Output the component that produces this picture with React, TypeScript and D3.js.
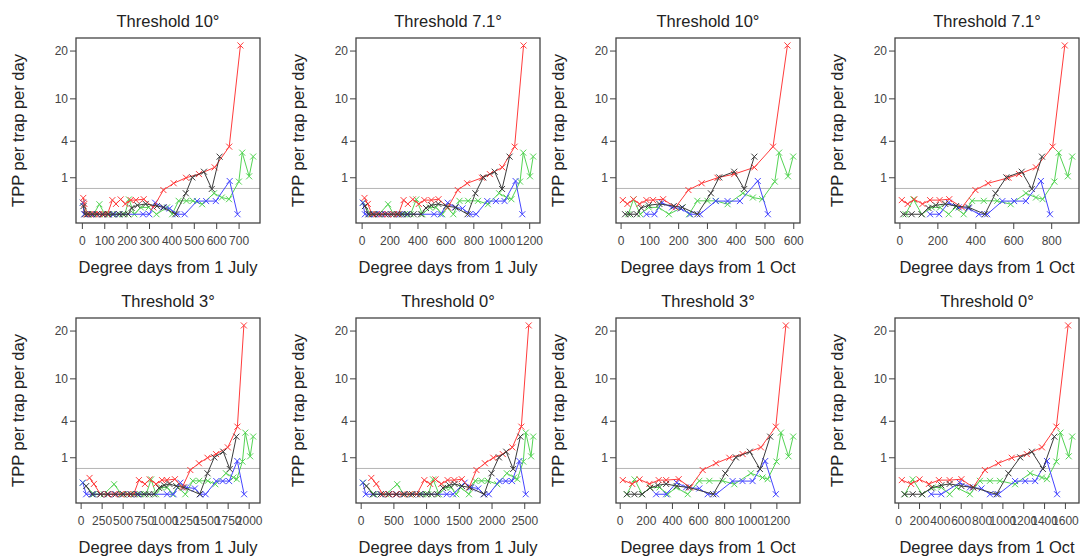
import React from "react";
import * as d3 from "d3";

// ---------- DATA ----------
const thresholdLabels = ["10", "7.1", "3", "0"];

// Oct-onward samples (shared by all panels)
const redOctY = [0.15, 0.08, 0.165, 0.08, 0.15, 0.15, 0.17, 0.035, 0.44, 0.72, 1.0, 1.21, 1.65, 3.43, 21.4];
const redOctX10 = [6, 22, 43, 64, 88, 111, 146, 189, 234, 280, 335, 393, 463, 528, 578];
const redOctX7 = [10, 41, 76, 119, 159, 209, 260, 327, 398, 465, 572, 628, 717, 805, 869];
const redOctX3 = [20, 92, 148, 224, 295, 352, 448, 535, 632, 734, 836, 938, 1078, 1192, 1269];
const redOctX0 = [30, 119, 200, 290, 386, 489, 602, 715, 827, 956, 1085, 1230, 1375, 1513, 1626];

const blackOctY = [0, 0, 0, 0.03, 0.06, 0.08, 0.05, 0.035, 0, 0.33, 1.02, 1.36, 0.48, 2.49];
const blackOctX10 = [14, 32, 55, 70, 96, 133, 183, 213, 265, 312, 341, 393, 428, 463];
const blackOctX7 = [18, 62, 115, 150, 189, 239, 296, 363, 448, 504, 561, 642, 695, 749];
const blackOctX3 = [51, 109, 168, 229, 288, 352, 433, 525, 713, 805, 886, 993, 1070, 1149];
const blackOctX0 = [55, 135, 225, 312, 409, 489, 602, 715, 940, 1053, 1166, 1278, 1384, 1494];

const blueOctY = [0, 0, 0.1, 0.035, 0.025, 0, 0, 0.13, 0.13, 0.13, 0.83, 0];
const blueOctX10 = [88, 116, 142, 177, 207, 240, 274, 329, 370, 413, 475, 510];
const blueOctX7 = [159, 207, 257, 310, 363, 416, 460, 540, 602, 664, 743, 791];
const blueOctX3 = [275, 352, 433, 504, 606, 670, 734, 861, 937, 1014, 1111, 1192];
const blueOctX0 = [312, 409, 586, 683, 795, 876, 956, 1117, 1214, 1310, 1423, 1520];

const greenOctY = [0, 0.165, 0, 0.035, 0.035, 0, 0.035, 0, 0.135, 0.135, 0.135, 0.075, 0.33, 0.21, 0.17, 0.8, 2.85, 1.08, 2.5];
const greenOctX10 = [25, 43, 67, 96, 131, 166, 213, 236, 265, 300, 329, 370, 423, 458, 490, 534, 549, 580, 598];
const greenOctX7 = [30, 71, 115, 168, 212, 257, 292, 336, 380, 442, 513, 584, 664, 717, 752, 814, 837, 885, 908];
const greenOctX3 = [51, 110, 168, 229, 301, 364, 428, 517, 606, 683, 785, 874, 1001, 1090, 1129, 1197, 1231, 1289, 1325];
const greenOctX0 = [60, 135, 225, 328, 409, 489, 554, 683, 779, 876, 972, 1117, 1262, 1375, 1423, 1513, 1552, 1632, 1665];

// Degree days accumulated 1 July -> 1 Oct, per site, thresholds [10, 7.1, 3, 0]
const redJulyToOct = [128, 287, 668, 935];
const blackJulyToOct = [150, 307, 699, 939];
const blueJulyToOct = [183, 356, 748, 995];
const greenJulyToOct = [165, 317, 723, 964];

// Winter samples (July - Sept), only in "from 1 July" panels
const redWinterY = [0.2, 0.08, 0, 0, 0, 0, 0, 0];
const redWinterX10 = [4, 9, 20, 35, 55, 75, 95, 112];
const redWinterX7 = [17, 41, 70, 105, 145, 185, 225, 260];
const redWinterX3 = [100, 152, 230, 310, 390, 470, 550, 625];
const redWinterX0 = [155, 232, 330, 430, 530, 630, 740, 850];

const blackWinterY = [0.05, 0, 0, 0, 0, 0, 0, 0];
const blackWinterX10 = [5, 12, 25, 45, 65, 90, 115, 135];
const blackWinterX7 = [20, 45, 80, 120, 165, 210, 250, 285];
const blackWinterX3 = [60, 130, 230, 320, 410, 500, 590, 670];
const blackWinterX0 = [80, 180, 300, 420, 540, 660, 780, 900];

const blueWinterY = [0.1, 0, 0, 0, 0, 0, 0, 0, 0];
const blueWinterX10 = [2, 8, 20, 40, 65, 90, 115, 140, 165];
const blueWinterX7 = [5, 20, 50, 90, 135, 180, 225, 270, 320];
const blueWinterX3 = [20, 60, 140, 230, 320, 410, 500, 590, 680];
const blueWinterX0 = [25, 70, 180, 300, 420, 540, 660, 780, 900];

const greenWinterY = [0.1, 0, 0, 0.075, 0, 0, 0, 0];
const greenWinterX10 = [3, 25, 50, 76, 100, 120, 140, 155];
const greenWinterX7 = [8, 60, 120, 186, 225, 260, 290, 305];
const greenWinterX3 = [20, 150, 270, 392, 480, 560, 640, 700];
const greenWinterX0 = [30, 200, 380, 550, 650, 750, 850, 930];

const yTicks = [1, 4, 10, 20];
const referenceLevel = 0.5;

const ticksP1 = [0, 100, 200, 300, 400, 500, 600, 700];
const ticksP2 = [0, 200, 400, 600, 800, 1000, 1200];
const ticksP3 = [0, 100, 200, 300, 400, 500, 600];
const ticksP4 = [0, 200, 400, 600, 800];
const ticksP5 = [0, 250, 500, 750, 1000, 1250, 1500, 1750, 2000];
const ticksP6 = [0, 500, 1000, 1500, 2000, 2500];
const ticksP7 = [0, 200, 400, 600, 800, 1000, 1200];
const ticksP8 = [0, 200, 400, 600, 800, 1000, 1200, 1400, 1600];

// ---------- assembly ----------
type Series = {
  name: string;
  color: string;
  octY: number[];
  octX: number[][];
  offset: number[];
  winterY: number[];
  winterX: number[][];
};

const series: Series[] = [
  { name: "green", color: "#55d455", octY: greenOctY, octX: [greenOctX10, greenOctX7, greenOctX3, greenOctX0], offset: greenJulyToOct, winterY: greenWinterY, winterX: [greenWinterX10, greenWinterX7, greenWinterX3, greenWinterX0] },
  { name: "blue", color: "#4646ff", octY: blueOctY, octX: [blueOctX10, blueOctX7, blueOctX3, blueOctX0], offset: blueJulyToOct, winterY: blueWinterY, winterX: [blueWinterX10, blueWinterX7, blueWinterX3, blueWinterX0] },
  { name: "red", color: "#ff3c3c", octY: redOctY, octX: [redOctX10, redOctX7, redOctX3, redOctX0], offset: redJulyToOct, winterY: redWinterY, winterX: [redWinterX10, redWinterX7, redWinterX3, redWinterX0] },
  { name: "black", color: "#3c3c3c", octY: blackOctY, octX: [blackOctX10, blackOctX7, blackOctX3, blackOctX0], offset: blackJulyToOct, winterY: blackWinterY, winterX: [blackWinterX10, blackWinterX7, blackWinterX3, blackWinterX0] },
];

type PanelDef = { th: number; from: "July" | "Oct"; ticks: number[]; col: number; row: number };
const panels: PanelDef[] = [
  { th: 0, from: "July", ticks: ticksP1, col: 0, row: 0 },
  { th: 1, from: "July", ticks: ticksP2, col: 1, row: 0 },
  { th: 0, from: "Oct", ticks: ticksP3, col: 2, row: 0 },
  { th: 1, from: "Oct", ticks: ticksP4, col: 3, row: 0 },
  { th: 2, from: "July", ticks: ticksP5, col: 0, row: 1 },
  { th: 3, from: "July", ticks: ticksP6, col: 1, row: 1 },
  { th: 2, from: "Oct", ticks: ticksP7, col: 2, row: 1 },
  { th: 3, from: "Oct", ticks: ticksP8, col: 3, row: 1 },
];

const boxLefts = [76, 356, 616, 895];
const boxTops = [38, 318];
const W = 184;
const H = 185;
const FONT = "'Liberation Sans', Arial, Helvetica, sans-serif";

function pointsFor(s: Series, p: PanelDef) {
  const oct = s.octX[p.th].map((x, i) => ({ x, y: s.octY[i] }));
  if (p.from === "Oct") return oct;
  const winter = s.winterX[p.th].map((x, i) => ({ x, y: s.winterY[i] }));
  return winter.concat(oct.map((d) => ({ x: d.x + s.offset[p.th], y: d.y })));
}

function Cross({ x, y, color }: { x: number; y: number; color: string }) {
  const a = 3;
  return (
    <path d={`M${x - a},${y - a}L${x + a},${y + a}M${x - a},${y + a}L${x + a},${y - a}`} stroke={color} strokeWidth={1} fill="none" />
  );
}

function Panel({ p }: { p: PanelDef }) {
  const left = boxLefts[p.col];
  const top = boxTops[p.row];
  const data = series.map((s) => ({ s, pts: pointsFor(s, p) }));
  const all = data.flatMap((d) => d.pts.map((q) => q.x));
  const [mn, mx] = d3.extent(all) as [number, number];
  const pad = (mx - mn) * 0.04;
  const x = d3.scaleLinear().domain([mn - pad, mx + pad]).range([left, left + W]);
  const ys = d3.scaleLinear().domain([-0.24, 4.83]).range([top + H, top]);
  const y = (v: number) => ys(Math.sqrt(v));
  const line = d3
    .line<{ x: number; y: number }>()
    .x((d) => x(d.x))
    .y((d) => y(d.y));
  const title = `Threshold ${thresholdLabels[p.th]}°`;
  return (
    <g>
      <text x={left + W / 2} y={top - 11} textAnchor="middle" fontSize={16.5} fill="#222" fontFamily={FONT}>
        {title}
      </text>
      <line x1={left} x2={left + W} y1={y(referenceLevel)} y2={y(referenceLevel)} stroke="#b4b4b4" strokeWidth={1} />
      {data.map(({ s, pts }) => (
        <g key={s.name}>
          <path d={line(pts) || ""} fill="none" stroke={s.color} strokeWidth={1} />
          {pts.map((q, i) => (
            <Cross key={i} x={x(q.x)} y={y(q.y)} color={s.color} />
          ))}
        </g>
      ))}
      <rect x={left} y={top} width={W} height={H} fill="none" stroke="#444" strokeWidth={1.3} />
      {yTicks.map((t) => (
        <g key={t}>
          <line x1={left - 6} x2={left} y1={y(t)} y2={y(t)} stroke="#444" strokeWidth={1} />
          <text x={left - 8} y={y(t)} dy="0.35em" textAnchor="end" fontSize={12} fill="#444" fontFamily={FONT}>
            {t}
          </text>
        </g>
      ))}
      {p.ticks.map((t) => (
        <g key={t}>
          <line x1={x(t)} x2={x(t)} y1={top + H} y2={top + H + 6} stroke="#444" strokeWidth={1} />
          <text x={x(t)} y={top + H + 22} textAnchor="middle" fontSize={12} fill="#444" fontFamily={FONT}>
            {t}
          </text>
        </g>
      ))}
      <text
        transform={`translate(${left - 52},${top + H / 2}) rotate(-90)`}
        textAnchor="middle"
        fontSize={16.5}
        fill="#222"
        fontFamily={FONT}
      >
        TPP per trap per day
      </text>
      <text x={left + W / 2} y={top + H + 50} textAnchor="middle" fontSize={16.5} fill="#222" fontFamily={FONT}>
        {`Degree days from 1 ${p.from}`}
      </text>
    </g>
  );
}

export default function App() {
  return (
    <svg width={1083} height={556} style={{ position: "absolute", left: 0, top: 0, background: "#fff" }}>
      <rect width={1083} height={556} fill="#fff" />
      {panels.map((p, i) => (
        <Panel key={i} p={p} />
      ))}
    </svg>
  );
}
